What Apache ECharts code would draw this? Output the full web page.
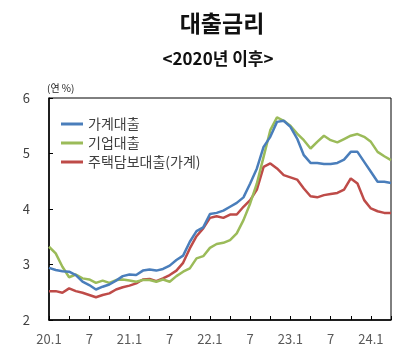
<!DOCTYPE html>
<html><head><meta charset="utf-8">
<script src="https://cdn.jsdelivr.net/npm/echarts@6/dist/echarts.min.js"></script>
<style>html,body{margin:0;padding:0;background:#fff}#c{width:409px;height:363px}</style>
</head><body><div id="c"></div>
<script>
// months 2020.1 .. 2024.4
var categories = [];
for (var y = 20; y <= 24; y++) { for (var m = 1; m <= 12; m++) { if (y === 24 && m > 4) break; categories.push(y + '.' + m); } }
var tickLabels = {'20.1':'20.1','20.7':'7','21.1':'21.1','21.7':'7','22.1':'22.1','22.7':'7','23.1':'23.1','23.7':'7','24.1':'24.1'};
var seriesNames = ['가계대출', '기업대출', '주택담보대출(가계)'];
var household = [2.94,2.90,2.88,2.87,2.81,2.69,2.63,2.55,2.60,2.64,2.71,2.79,2.82,2.81,2.89,2.91,2.89,2.92,2.98,3.08,3.16,3.41,3.60,3.67,
  3.91,3.93,3.97,4.04,4.11,4.21,4.46,4.73,5.12,5.30,5.57,5.59,5.48,5.27,4.97,4.83,4.83,4.81,4.81,4.83,4.89,5.03,5.03,4.85,4.67,4.49,4.49,4.47];
var corporate = [3.32,3.20,2.96,2.77,2.82,2.75,2.73,2.67,2.71,2.67,2.72,2.73,2.71,2.69,2.72,2.72,2.69,2.73,2.69,2.79,2.87,2.93,3.11,3.15,
  3.30,3.37,3.39,3.44,3.56,3.80,4.10,4.46,4.94,5.42,5.65,5.59,5.50,5.36,5.24,5.09,5.21,5.32,5.24,5.20,5.26,5.32,5.35,5.30,5.21,5.03,4.95,4.88];
var mortgage = [2.52,2.52,2.49,2.57,2.52,2.49,2.45,2.41,2.45,2.48,2.55,2.59,2.62,2.66,2.73,2.74,2.70,2.75,2.81,2.89,3.03,3.29,3.51,3.65,
  3.84,3.87,3.84,3.90,3.90,4.04,4.16,4.35,4.76,4.82,4.73,4.61,4.57,4.53,4.37,4.23,4.21,4.25,4.27,4.29,4.35,4.55,4.46,4.16,4.01,3.96,3.93,3.93];
var colors = ['#4A7EBB', '#9BBB59', '#BE4B48'];
var font = '"Noto Sans CJK KR", "Noto Sans", sans-serif';
var chart = echarts.init(document.getElementById('c'), null, {renderer:'canvas'});
function mk(name, data, i) {
  return {name:name, type:'line', data:data, showSymbol:false, symbol:'none',
    lineStyle:{color:colors[i], width:2.5}, itemStyle:{color:colors[i]}, z: 3 - i};
}
chart.setOption({
  animation:false,
  title:[
    {text:'대출금리', left:217, top:7, textAlign:'center', textStyle:{fontFamily:font, fontSize:23, fontWeight:'bold', color:'#111'}},
    {text:'<2020년 이후>', left:213, top:45, textAlign:'center', textStyle:{fontFamily:font, fontSize:17, fontWeight:'bold', color:'#111'}}
  ],
  legend:{orient:'vertical', left:56, top:112, itemWidth:22, itemHeight:3, itemGap:5, icon:'rect',
    data:seriesNames, textStyle:{fontFamily:font, fontSize:14, color:'#404040'}},
  grid:{left:49, top:98, right:18, bottom:43, show:true, borderColor:'#000', borderWidth:1},
  xAxis:{type:'category', data:categories, boundaryGap:false,
    axisLine:{lineStyle:{color:'#000', width:1.5}},
    axisTick:{inside:true, length:4, interval:function(i){return i % 3 === 0;}, lineStyle:{color:'#000'}},
    axisLabel:{interval:0, margin:13, fontFamily:font, fontSize:13, color:'#595959',
      formatter:function(v){return tickLabels[v] || '';}},
    splitLine:{show:false}},
  yAxis:{type:'value', min:2, max:6, interval:1,
    name:'(연 %)', nameLocation:'end', nameGap:5,
    nameTextStyle:{fontFamily:font, fontSize:10, color:'#222', align:'left', padding:[0,0,0,-2]},
    axisLine:{show:true, lineStyle:{color:'#000', width:1.5}},
    axisTick:{show:true, inside:true, length:4, lineStyle:{color:'#000'}},
    axisLabel:{margin:19, fontFamily:font, fontSize:13, color:'#404040'},
    splitLine:{show:false}},
  series:[mk(seriesNames[0], household, 0), mk(seriesNames[1], corporate, 1), mk(seriesNames[2], mortgage, 2)]
});
</script></body></html>
